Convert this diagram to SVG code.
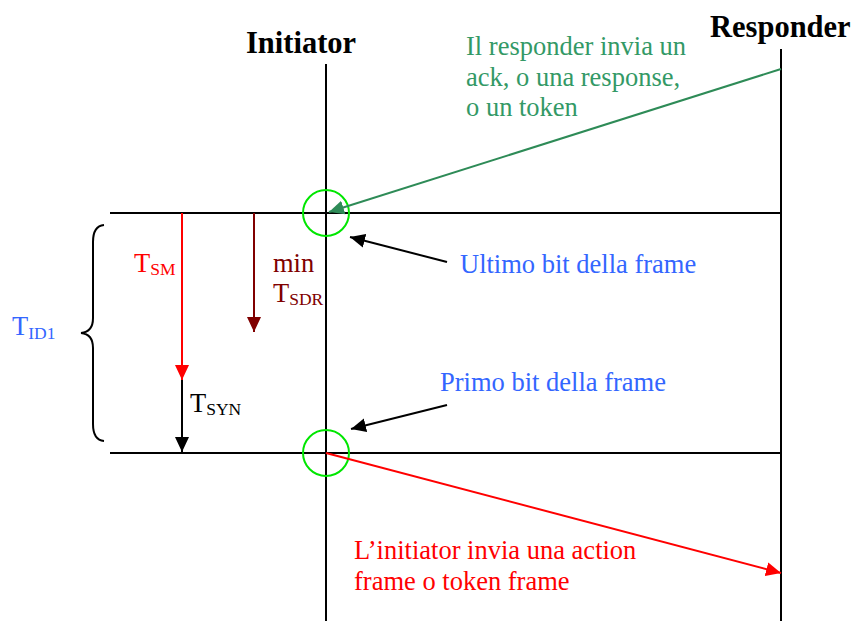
<svg xmlns="http://www.w3.org/2000/svg" width="858" height="621" viewBox="0 0 858 621">
  <style>
    .txt { font-family: "Liberation Serif", "Times New Roman", serif; font-size: 26.5px; }
    .head { font-family: "Liberation Serif", "Times New Roman", serif; font-size: 30.5px; font-weight: bold; fill: #000; }
    .sub { font-size: 17.5px; }
    .life { stroke: #000; stroke-width: 2; fill: none; }
    .mark { stroke: #00e600; stroke-width: 2; fill: none; }
  </style>
  <defs>
    <marker id="ah-black" markerUnits="userSpaceOnUse" markerWidth="16" markerHeight="16" viewBox="0 0 16 16" refX="15" refY="8" orient="auto">
      <path d="M0,1 L15,8 L0,15 Z" fill="#000"/>
    </marker>
    <marker id="ah-red" markerUnits="userSpaceOnUse" markerWidth="16" markerHeight="16" viewBox="0 0 16 16" refX="15" refY="8" orient="auto">
      <path d="M0,1 L15,8 L0,15 Z" fill="#ff0000"/>
    </marker>
    <marker id="ah-darkred" markerUnits="userSpaceOnUse" markerWidth="16" markerHeight="16" viewBox="0 0 16 16" refX="15" refY="8" orient="auto">
      <path d="M0,1 L15,8 L0,15 Z" fill="#800000"/>
    </marker>
    <marker id="ah-green" markerUnits="userSpaceOnUse" markerWidth="16" markerHeight="16" viewBox="0 0 16 16" refX="15" refY="8" orient="auto">
      <path d="M0,1 L15,8 L0,15 Z" fill="#2e8b57"/>
    </marker>
  </defs>

  <rect width="858" height="621" fill="#fff"/>

  <!-- lifelines -->
  <g id="initiator">
    <line class="life" x1="326" y1="64" x2="326" y2="621"/>
    <text class="head" x="246" y="53">Initiator</text>
  </g>
  <g id="responder">
    <line class="life" x1="781" y1="49" x2="781" y2="621"/>
    <text class="head" x="710" y="37">Responder</text>
  </g>

  <!-- frame boundaries -->
  <g id="frame-lines">
    <line class="life" x1="110" y1="213" x2="781" y2="213"/>
    <line class="life" x1="110" y1="453" x2="781" y2="453"/>
  </g>

  <!-- highlighted instants -->
  <g id="last-bit">
    <circle class="mark" cx="326" cy="213" r="23"/>
    <text class="txt" x="460" y="273" fill="#3366ff">Ultimo bit della frame</text>
  </g>
  <g id="first-bit">
    <circle class="mark" cx="326" cy="453" r="23"/>
    <text class="txt" x="440" y="391" fill="#3366ff">Primo bit della frame</text>
  </g>

  <!-- connectors -->
  <g id="connectors">
    <line x1="781" y1="69" x2="329" y2="212" stroke="#2e8b57" stroke-width="2" marker-end="url(#ah-green)"/>
    <line x1="326" y1="453" x2="781" y2="573" stroke="#ff0000" stroke-width="2" marker-end="url(#ah-red)"/>
    <line x1="447" y1="262" x2="350" y2="237" stroke="#000" stroke-width="2" marker-end="url(#ah-black)"/>
    <line x1="447" y1="405" x2="351" y2="429" stroke="#000" stroke-width="2" marker-end="url(#ah-black)"/>
    <line x1="182" y1="213" x2="182" y2="380" stroke="#ff0000" stroke-width="2" marker-end="url(#ah-red)"/>
    <line x1="182" y1="380" x2="182" y2="452" stroke="#000" stroke-width="2" marker-end="url(#ah-black)"/>
    <line x1="254" y1="213" x2="254" y2="332" stroke="#800000" stroke-width="2" marker-end="url(#ah-darkred)"/>
    <path d="M104,225 Q93,226 93,242 L93,318 Q93,332 81,333 Q93,334 93,348 L93,424 Q93,440 104,441" class="life"/>
  </g>

  <!-- message labels -->
  <g id="ack-label" class="txt" fill="#339966">
    <text x="466" y="55">Il responder invia un</text>
    <text x="466" y="86">ack, o una response,</text>
    <text x="466" y="116">o un token</text>
  </g>
  <g id="action-label" class="txt" fill="#ff0000">
    <text x="354" y="559">L’initiator invia una action</text>
    <text x="354" y="590">frame o token frame</text>
  </g>

  <!-- timing labels -->
  <g id="t-sm" class="txt" fill="#ff0000">
    <text x="134" y="272">T<tspan class="sub" dy="3">SM</tspan></text>
  </g>
  <g id="t-sdr" class="txt" fill="#800000">
    <text x="273" y="272">min</text>
    <text x="273" y="302">T<tspan class="sub" dy="3">SDR</tspan></text>
  </g>
  <g id="t-syn" class="txt" fill="#000">
    <text x="190" y="412">T<tspan class="sub" dy="3">SYN</tspan></text>
  </g>
  <g id="t-id1" class="txt" fill="#3366ff">
    <text x="12" y="335">T<tspan class="sub" dy="4">ID1</tspan></text>
  </g>
</svg>
